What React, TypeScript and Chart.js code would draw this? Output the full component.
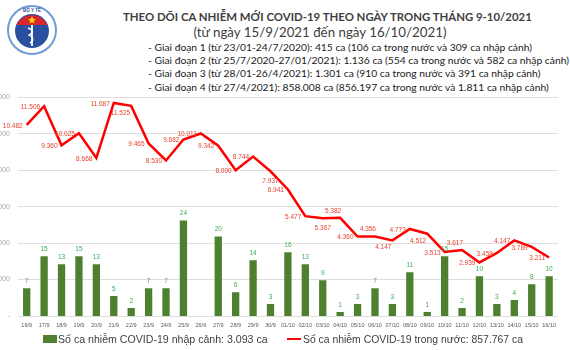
import React, { useEffect, useRef } from "react";
import { Chart, registerables } from "chart.js";

Chart.register(...registerables);

const categories = [
  "16/9", "17/9", "18/9", "19/9", "20/9", "21/9", "22/9", "23/9", "24/9", "25/9",
  "26/9", "27/9", "28/9", "29/9", "30/9", "01/10", "02/10", "03/10", "04/10", "05/10",
  "06/10", "07/10", "08/10", "09/10", "10/10", "11/10", "12/10", "13/10", "14/10", "15/10", "16/10",
];

const importedCases = [
  7, 15, 13, 15, 13, 5, 2, 7, 7, 24,
  0, 20, 6, 14, 3, 16, 13, 9, 1, 3,
  7, 3, 11, 1, 15, 2, 10, 3, 4, 8, 10,
];

const domesticCases = [
  10482, 11506, 9360, 10025, 8668, 11687, 11525, 9465, 8530, 9682,
  10011, 9342, 8000, 8744, 7937, 6941, 5477, 5367, 5382, 4360,
  4356, 4147, 4773, 4512, 3513, 3617, 2939, 3458, 4147, 3789, 3211,
];

// label placement for the line labels (L = left, B = below, AL = above-left, BL = below-left)
const lineLabelPlacement = [
  "L", "L", "L", "L", "L", "L", "BL", "L", "L", "L",
  "L", "L", "L", "L", "B", "L", "L", "B", "AL", "L",
  "AL", "BL", "L", "BL", "L", "AL", "L", "L", "L", "L", "L",
];

const leftTicks = [0, 2000, 4000, 6000, 8000, 10000, 12000];

const titleText = "THEO DÕI CA NHIỄM MỚI COVID-19 THEO NGÀY TRONG THÁNG 9-10/2021";
const subtitleText = "(từ ngày 15/9/2021 đến ngày 16/10/2021)";
const phaseLines = [
  "- Giai đoạn 1 (từ 23/01-24/7/2020): 415 ca (106 ca trong nước và 309 ca nhập cảnh)",
  "- Giai đoạn 2 (từ 25/7/2020-27/01/2021): 1.136 ca (554 ca trong nước và 582 ca nhập cảnh)",
  "- Giai đoạn 3 (từ 28/01-26/4/2021): 1.301 ca (910 ca trong nước và 391 ca nhập cảnh)",
  "- Giai đoạn 4 (từ 27/4/2021): 858.008 ca (856.197 ca trong nước và 1.811 ca nhập cảnh)",
];
const legendImported = "Số ca nhiễm COVID-19 nhập cảnh: 3.093 ca";
const legendDomestic = "Số ca nhiễm COVID-19 trong nước: 857.767 ca";

const fmt = (v: number) => {
  if (v === 0) return "-";
  return v.toString().replace(/\B(?=(\d{3})+(?!\d))/g, ".");
};

const labelPlugin = {
  id: "labelPlugin",
  afterDatasetsDraw(chart: any) {
    const ctx = chart.ctx;
    ctx.save();
    // bar labels
    const barMeta = chart.getDatasetMeta(0);
    ctx.font = "6.5px 'Liberation Sans', Arial, sans-serif";
    ctx.fillStyle = "#3fae55";
    ctx.textAlign = "center";
    ctx.textBaseline = "bottom";
    barMeta.data.forEach((el: any, i: number) => {
      const v = importedCases[i];
      if (!v) return;
      ctx.fillText(String(v), el.x, el.y - 4);
    });
    // line labels
    const lineMeta = chart.getDatasetMeta(1);
    ctx.fillStyle = "#e8432e";
    ctx.textBaseline = "middle";
    lineMeta.data.forEach((el: any, i: number) => {
      const t = fmt(domesticCases[i]);
      const p = lineLabelPlacement[i];
      let x = el.x;
      let y = el.y;
      if (p === "L") {
        ctx.textAlign = "right";
        x -= 4;
        y += 1;
      } else if (p === "B") {
        ctx.textAlign = "center";
        y += 10;
      } else if (p === "AL") {
        ctx.textAlign = "right";
        x += 1;
        y -= 7;
      } else if (p === "BL") {
        ctx.textAlign = "right";
        x -= 1;
        y += 7;
      }
      ctx.fillText(t, x, y);
    });
    ctx.restore();
  },
};

function ChartCanvas() {
  const ref = useRef<HTMLCanvasElement | null>(null);
  useEffect(() => {
    if (!ref.current) return;
    const chart = new Chart(ref.current, {
      type: "bar",
      data: {
        labels: categories,
        datasets: [
          {
            type: "bar",
            label: legendImported,
            data: importedCases,
            backgroundColor: "#4e8030",
            borderWidth: 0,
            barPercentage: 0.42,
            categoryPercentage: 1,
            yAxisID: "y1",
            order: 2,
          },
          {
            type: "line",
            label: legendDomestic,
            data: domesticCases,
            borderColor: "#ff0000",
            borderWidth: 2.5,
            pointRadius: 0,
            tension: 0,
            fill: false,
            yAxisID: "y",
            order: 1,
          } as any,
        ],
      },
      options: {
        animation: false,
        responsive: true,
        maintainAspectRatio: false,
        layout: { padding: { top: 8, right: 0, left: 0, bottom: 0 } },
        plugins: {
          legend: { display: false },
          tooltip: { enabled: false },
        },
        scales: {
          x: {
            grid: { display: false, drawTicks: false },
            border: { display: false },
            ticks: {
              autoSkip: false,
              maxRotation: 0,
              minRotation: 0,
              padding: 6,
              color: "#595959",
              font: { size: 5.5, family: "'Liberation Sans', Arial, sans-serif" },
            },
            afterFit(scale: any) {
              scale.height = 16;
            },
          },
          y: {
            position: "left",
            min: 0,
            max: 12000,
            afterBuildTicks(scale: any) {
              scale.ticks = leftTicks.map((v) => ({ value: v }));
            },
            ticks: {
              padding: 8,
              color: "#a6a6a6",
              font: { size: 7, family: "'Liberation Sans', Arial, sans-serif" },
              callback: (v: any) => fmt(Number(v)),
            },
            grid: { color: "#dedede", lineWidth: 1, drawTicks: false },
            border: { display: false },
            afterFit(scale: any) {
              scale.width = 44;
            },
          },
          y1: {
            display: false,
            position: "right",
            min: 0,
            max: 55,
            grid: { display: false },
          },
        },
      },
      plugins: [labelPlugin],
    });
    return () => chart.destroy();
  }, []);
  return <canvas ref={ref} />;
}

function Logo() {
  return (
    <svg width="52" height="52" viewBox="0 0 52 52" style={{ position: "absolute", left: 6, top: 4 }}>
      <circle cx="26" cy="26" r="24" fill="#ffffff" stroke="#6d9bd6" strokeWidth="2" />
      <circle cx="26" cy="27" r="17" fill="#2a4f9e" />
      <path d="M 10.5 21 A 17 17 0 0 1 41.5 21 Z" fill="#d8262c" />
      <polygon points="26,12 27.2,15 30,15 27.8,16.8 28.6,19.6 26,18 23.4,19.6 24.2,16.8 22,15 24.8,15" fill="#ffd700" />
      <line x1="26" y1="21" x2="26" y2="42" stroke="#ffffff" strokeWidth="1.8" />
      <path d="M 22 24 Q 30 27 23 31 Q 30 35 24 39" stroke="#ffffff" strokeWidth="1.4" fill="none" />
      <text x="26" y="7.5" textAnchor="middle" fontSize="4.5" fill="#2a4f9e" fontFamily="Liberation Sans" fontWeight="bold">BỘ Y TẾ</text>
    </svg>
  );
}

export default function App() {
  return (
    <div
      style={{
        position: "fixed",
        left: 0,
        top: 0,
        width: 570,
        height: 350,
        overflow: "hidden",
        background: "#ffffff",
        fontFamily: "Lato, 'Liberation Sans', sans-serif",
      }}
    >
      <Logo />
      <div
        style={{
          position: "absolute",
          top: 8,
          left: 123,
          width: 400,
          textAlign: "center",
          fontSize: 11.4,
          fontWeight: 700,
          color: "#404040",
          whiteSpace: "nowrap",
          lineHeight: "18px",
        }}
      >
        {titleText}
      </div>
      <div
        style={{
          position: "absolute",
          top: 23,
          left: 120,
          width: 400,
          textAlign: "center",
          fontSize: 13.3,
          color: "#404040",
          whiteSpace: "nowrap",
          lineHeight: "18px",
        }}
      >
        {subtitleText}
      </div>
      {phaseLines.map((t, i) => (
        <div
          key={i}
          style={{
            position: "absolute",
            top: 40 + i * 13.2,
            left: 148,
            fontSize: 10.3,
            color: "#1a1a1a",
            whiteSpace: "nowrap",
            lineHeight: "14px",
          }}
        >
          {t}
        </div>
      ))}
      <div style={{ position: "absolute", left: -26, top: 85, width: 588, height: 247 }}>
        <ChartCanvas />
      </div>
      <div
        style={{
          position: "absolute",
          top: 331,
          left: 43,
          height: 16,
          display: "flex",
          alignItems: "center",
          fontFamily: "'Liberation Sans', Arial, sans-serif",
          fontSize: 10.6,
          color: "#404040",
          whiteSpace: "nowrap",
        }}
      >
        <span style={{ display: "inline-block", width: 14, height: 8, background: "#4e8030", marginRight: 1 }} />
        <span>{legendImported}</span>
      </div>
      <div
        style={{
          position: "absolute",
          top: 331,
          left: 287,
          height: 16,
          display: "flex",
          alignItems: "center",
          fontFamily: "'Liberation Sans', Arial, sans-serif",
          fontSize: 10.4,
          color: "#404040",
          whiteSpace: "nowrap",
        }}
      >
        <span style={{ display: "inline-block", width: 14, height: 2, background: "#ff0000", marginRight: 2 }} />
        <span>{legendDomestic}</span>
      </div>
    </div>
  );
}
